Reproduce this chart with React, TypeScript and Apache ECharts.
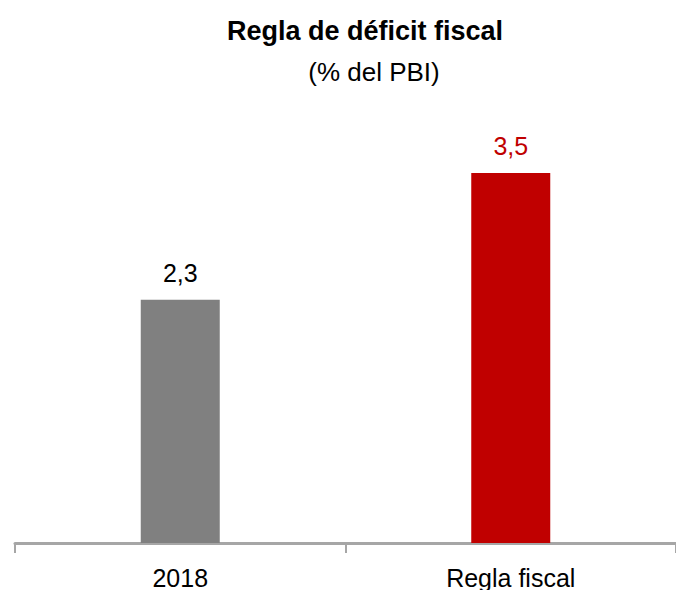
import React, { useEffect, useRef } from "react";
import * as echarts from "echarts";

const categories = ["2018", "Regla fiscal"];
const values = [2.3, 3.5];
const barColors = ["#808080", "#c00000"];
const labelColors = ["#000000", "#c00000"];
const titleText = "Regla de déficit fiscal";
const subtitleText = "(% del PBI)";

export default function App() {
  const ref = useRef<HTMLDivElement>(null);
  useEffect(() => {
    if (!ref.current) return;
    const chart = echarts.init(ref.current, null, { renderer: "svg" });
    chart.setOption({
      animation: false,
      backgroundColor: "#ffffff",
      title: [
        {
          text: titleText,
          left: 360,
          top: 12,
          textAlign: "center",
          textStyle: {
            fontFamily: "Liberation Sans",
            fontWeight: "bold",
            fontSize: 27,
            color: "#000",
          },
        },
        {
          text: subtitleText,
          left: 369,
          top: 54,
          textAlign: "center",
          textStyle: {
            fontFamily: "Liberation Sans",
            fontWeight: "normal",
            fontSize: 26,
            color: "#000",
          },
        },
      ],
      grid: { left: 15, top: 120, width: 666, height: 425, containLabel: false },
      xAxis: {
        type: "category",
        data: categories,
        axisLine: { lineStyle: { color: "#a6a6a6", width: 3 } },
        axisTick: { show: true, length: 10, lineStyle: { color: "#a6a6a6", width: 2 } },
        axisLabel: {
          fontFamily: "Liberation Sans",
          fontSize: 25,
          color: "#000",
          margin: 22,
        },
      },
      yAxis: {
        type: "value",
        min: 0,
        max: 4,
        show: false,
        splitLine: { show: false },
      },
      series: [
        {
          type: "bar",
          barWidth: 79,
          data: values.map((v, i) => ({
            value: v,
            itemStyle: { color: barColors[i] },
            label: { color: labelColors[i] },
          })),
          label: {
            show: true,
            position: "top",
            distance: 14,
            fontFamily: "Liberation Sans",
            fontSize: 25,
            formatter: (p: any) => String(p.value).replace(".", ","),
          },
        },
      ],
    });
    return () => chart.dispose();
  }, []);
  return (
    <div
      ref={ref}
      style={{ position: "absolute", left: 0, top: 0, width: 676, height: 590 }}
    />
  );
}
